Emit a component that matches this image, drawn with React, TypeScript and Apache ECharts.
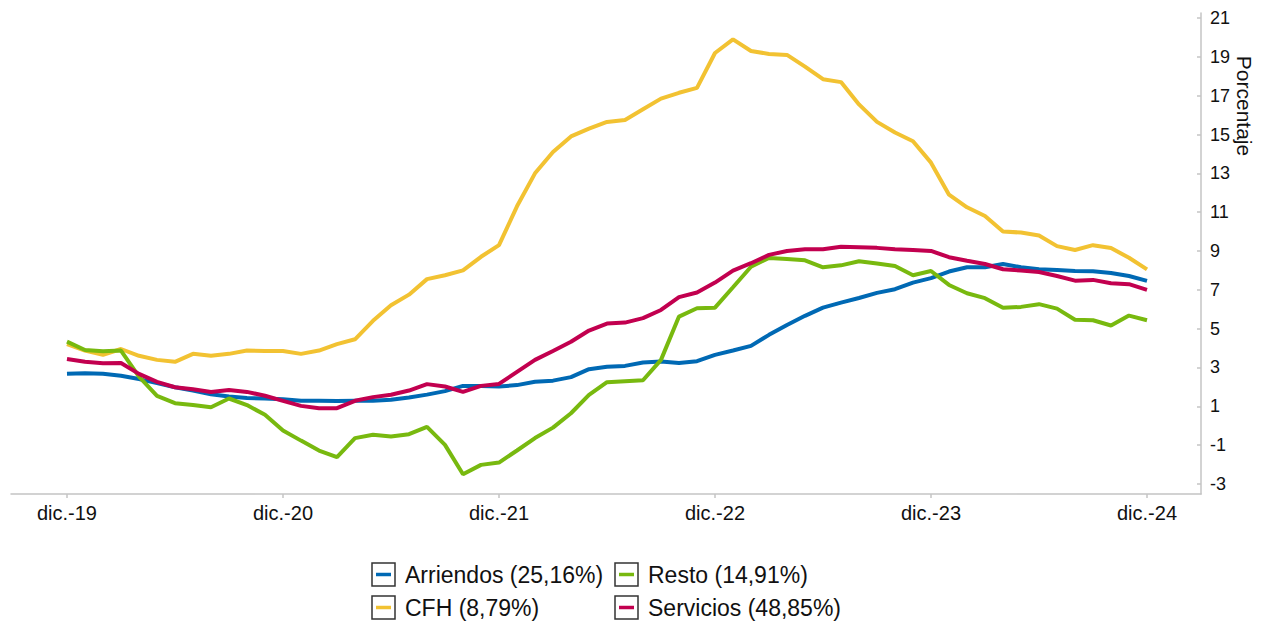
import React, { useEffect, useRef } from "react";
import * as echarts from "echarts";

const seriesNames = [
  "Arriendos (25,16%)",
  "Resto (14,91%)",
  "CFH (8,79%)",
  "Servicios (48,85%)",
];
const seriesColors = ["#0069b4", "#78b90f", "#f2c232", "#c2004f"];

const arriendos = [
  2.67, 2.7, 2.67, 2.57, 2.4, 2.19, 1.98, 1.81, 1.62, 1.5, 1.43, 1.4, 1.36, 1.28, 1.28, 1.27,
  1.28, 1.29, 1.33, 1.45, 1.6, 1.78, 2.05, 2.05, 2.02, 2.09, 2.26, 2.32, 2.5, 2.91, 3.04,
  3.08, 3.25, 3.3, 3.23, 3.32, 3.65, 3.87, 4.11, 4.68, 5.19, 5.66, 6.08, 6.34, 6.58, 6.84,
  7.03, 7.37, 7.6, 7.94, 8.16, 8.16, 8.33, 8.16, 8.06, 8.02, 7.97, 7.96, 7.87, 7.71, 7.46,
];
const resto = [
  4.33, 3.9, 3.84, 3.87, 2.53, 1.54, 1.16, 1.07, 0.95, 1.4, 1.06, 0.56, -0.25, -0.77, -1.28, -1.62,
  -0.64, -0.47, -0.56, -0.44, -0.06, -0.99, -2.5, -2.02, -1.9, -1.28, -0.64, -0.1, 0.64, 1.59, 2.24,
  2.29, 2.34, 3.39, 5.62, 6.05, 6.08, 7.13, 8.19, 8.64, 8.59, 8.52, 8.16, 8.26, 8.47, 8.35,
  8.23, 7.75, 7.97, 7.25, 6.82, 6.57, 6.07, 6.12, 6.26, 6.03, 5.46, 5.43, 5.16, 5.67, 5.43,
];
const cfh = [
  4.2, 3.87, 3.65, 3.95, 3.6, 3.39, 3.29, 3.7, 3.6, 3.7, 3.87, 3.85, 3.85, 3.7, 3.87, 4.2,
  4.45, 5.4, 6.2, 6.75, 7.55, 7.75, 8.0, 8.7, 9.3, 11.3, 13.0, 14.1, 14.9, 15.3, 15.65,
  15.75, 16.3, 16.85, 17.15, 17.4, 19.2, 19.9, 19.3, 19.15, 19.1, 18.5, 17.85, 17.7, 16.55, 15.65,
  15.1, 14.65, 13.55, 11.9, 11.25, 10.8, 10.0, 9.95, 9.8, 9.25, 9.05, 9.3, 9.15, 8.65, 8.05,
];
const servicios = [
  3.44, 3.29, 3.22, 3.23, 2.67, 2.26, 1.98, 1.88, 1.74, 1.84, 1.74, 1.54, 1.28, 1.02, 0.9, 0.9,
  1.28, 1.47, 1.59, 1.81, 2.14, 2.02, 1.74, 2.05, 2.15, 2.77, 3.39, 3.85, 4.32, 4.9, 5.26,
  5.31, 5.54, 5.96, 6.62, 6.86, 7.37, 7.99, 8.37, 8.8, 9.0, 9.09, 9.09, 9.22, 9.19, 9.16,
  9.09, 9.05, 9.0, 8.68, 8.5, 8.33, 8.06, 7.99, 7.92, 7.71, 7.47, 7.51, 7.34, 7.29, 7.0,
];
const seriesValues = [arriendos, resto, cfh, servicios];

const xTickIndex = [0, 12, 24, 36, 48, 60];
const xTickLabels = ["dic.-19", "dic.-20", "dic.-21", "dic.-22", "dic.-23", "dic.-24"];
const yTicks = [-3, -1, 1, 3, 5, 7, 9, 11, 13, 15, 17, 19, 21];
const yAxisName = "Porcentaje";

const FONT = "'Liberation Sans', Arial, sans-serif";
const TEXT_COLOR = "#111111";
const AXIS_COLOR = "#c4c4c4";

export default function App() {
  const ref = useRef<HTMLDivElement>(null);

  useEffect(() => {
    if (!ref.current) return;
    const chart = echarts.init(ref.current, undefined, { renderer: "svg" });

    const drawOrder = [2, 0, 1, 3];
    const series = drawOrder.map((k) => ({
      name: seriesNames[k],
      type: "line",
      data: seriesValues[k].map((v, i) => [i, v]),
      showSymbol: false,
      symbol: "none",
      lineStyle: { color: seriesColors[k], width: 4 },
      itemStyle: { color: seriesColors[k] },
      z: 2,
    }));

    const legendCols = [372, 615];
    const legendRows = [563, 596];
    const legendGraphics: any[] = [];
    seriesNames.forEach((name, k) => {
      const x = legendCols[k % 2];
      const y = legendRows[Math.floor(k / 2)];
      legendGraphics.push({
        type: "rect",
        shape: { x, y, width: 23, height: 23 },
        style: { fill: "#ffffff", stroke: "#333333", lineWidth: 1.5 },
      });
      legendGraphics.push({
        type: "line",
        shape: { x1: x + 4, y1: y + 11.5, x2: x + 19, y2: y + 11.5 },
        style: { stroke: seriesColors[k], lineWidth: 3.5 },
      });
      legendGraphics.push({
        type: "text",
        x: x + 33,
        y: y + 12,
        style: {
          text: name,
          fill: TEXT_COLOR,
          font: `23px ${FONT}`,
          textAlign: "left",
          textVerticalAlign: "middle",
        },
      });
    });

    chart.setOption({
      animation: false,
      backgroundColor: "#ffffff",
      grid: { left: 11, right: 73, top: 13, bottom: 127, containLabel: false },
      xAxis: {
        type: "value",
        min: -3.11,
        max: 63,
        splitLine: { show: false },
        axisLine: { show: true, onZero: false, lineStyle: { color: AXIS_COLOR, width: 1.5 } },
        axisTick: {
          show: true,
          length: 4,
          customValues: xTickIndex,
          lineStyle: { color: AXIS_COLOR, width: 1.5 },
        },
        axisLabel: {
          customValues: xTickIndex,
          margin: 9,
          color: TEXT_COLOR,
          fontSize: 20,
          fontFamily: FONT,
          formatter: (v: number) => xTickLabels[xTickIndex.indexOf(Math.round(v))] ?? "",
        },
      },
      yAxis: {
        type: "value",
        position: "right",
        min: -3.52,
        max: 21.26,
        splitLine: { show: false },
        axisLine: { show: true, onZero: false, lineStyle: { color: AXIS_COLOR, width: 1.5 } },
        axisTick: {
          show: true,
          inside: true,
          length: 4,
          customValues: yTicks,
          lineStyle: { color: AXIS_COLOR, width: 1.5 },
        },
        axisLabel: {
          customValues: yTicks,
          margin: 9,
          color: TEXT_COLOR,
          fontSize: 18,
          fontFamily: FONT,
        },
      },
      series,
      graphic: [
        {
          type: "text",
          x: 1244,
          y: 106,
          rotation: -Math.PI / 2,
          style: {
            text: yAxisName,
            fill: TEXT_COLOR,
            font: `21px ${FONT}`,
            textAlign: "center",
            textVerticalAlign: "middle",
          },
        },
        ...legendGraphics,
      ],
    });

    return () => chart.dispose();
  }, []);

  return (
    <div
      ref={ref}
      style={{ position: "absolute", left: 0, top: 0, width: 1274, height: 621 }}
    />
  );
}
